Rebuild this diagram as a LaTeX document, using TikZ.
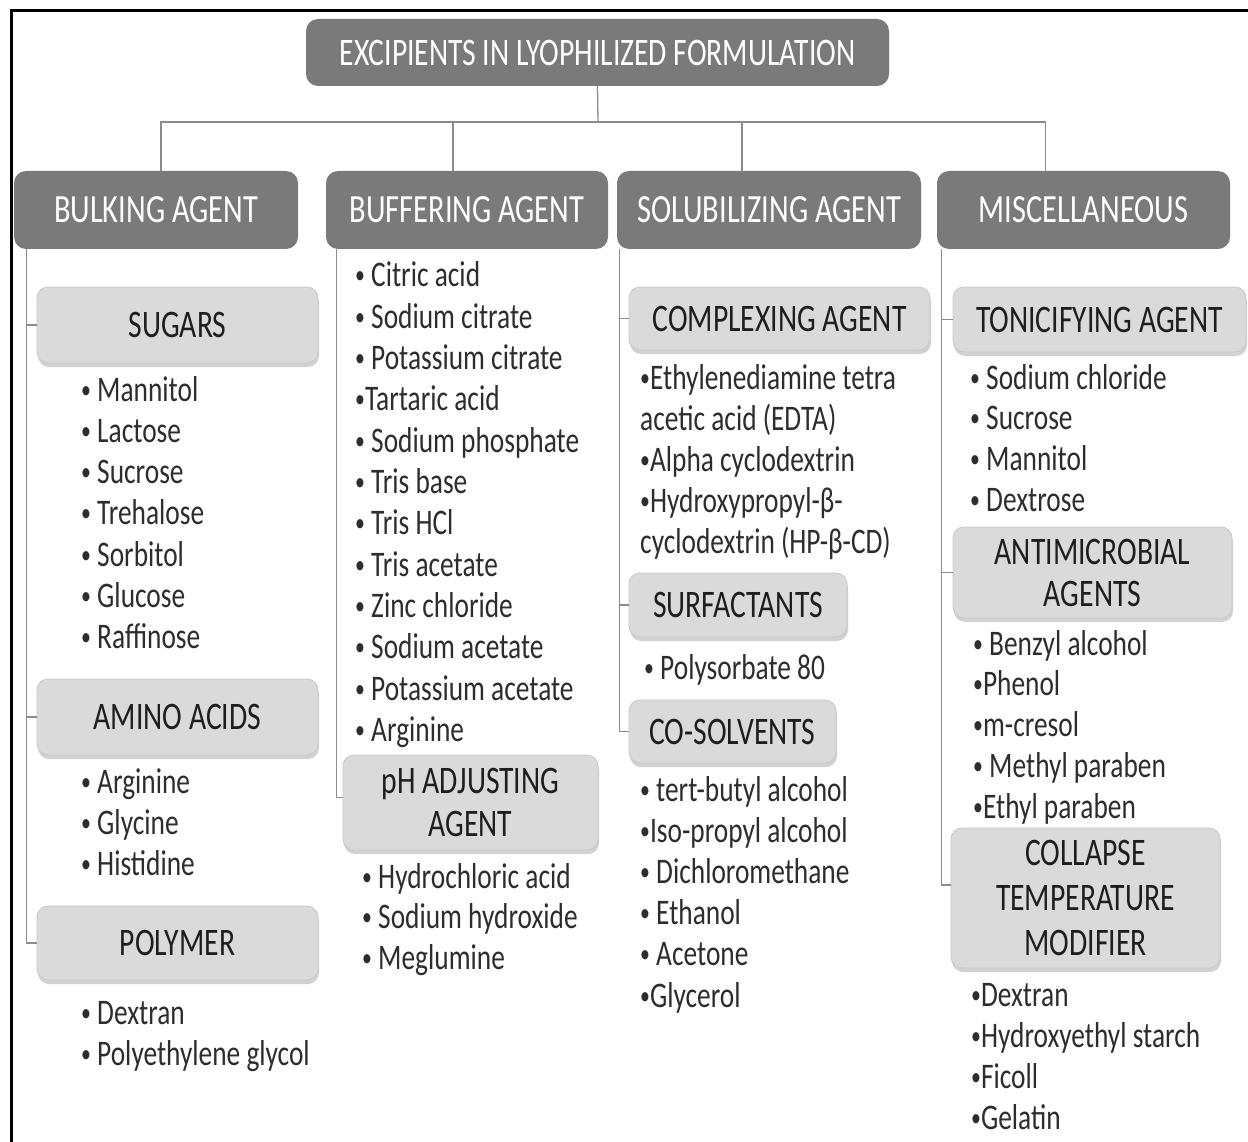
\documentclass[tikz,border=0pt]{standalone}
\usepackage{fontspec}
\setmainfont{Carlito}[FakeStretch=0.76]
\usetikzlibrary{shadows}
\definecolor{hdrgray}{RGB}{122,122,122}
\definecolor{subgray}{RGB}{218,218,218}
\definecolor{subedge}{RGB}{200,200,200}
\definecolor{linegray}{RGB}{140,140,140}
\definecolor{txtdark}{RGB}{30,30,30}
\definecolor{listtxt}{RGB}{45,45,45}
\newcommand\bu{{\fontsize{26}{26}\selectfont\raisebox{3pt}{•}}}
\begin{document}
\begin{tikzpicture}[x=1pt,y=-1pt,
  hdr/.style={fill=hdrgray, rounded corners=12pt, text=white, font=\fontsize{40}{40}\selectfont, inner sep=0pt},
  sub/.style={fill=subgray, draw=subedge, line width=0.8pt, rounded corners=11pt, text=txtdark,
    font=\fontsize{39}{43}\selectfont, align=center, inner sep=0pt,
    drop shadow={shadow xshift=1pt, shadow yshift=-4pt, opacity=0.35, fill=gray}},
  item/.style={anchor=base west, inner sep=0pt, text=listtxt, font=\fontsize{36}{41}\selectfont},
  conn/.style={draw=linegray, line width=1.3pt}]
\useasboundingbox (0,0) rectangle (1248,1142);
\fill[white] (0,0) rectangle (1248,1142);
\draw[line width=3pt] (1248,11) -- (11,11) -- (11,1142);

% title and headers
\node[hdr, minimum width=583, minimum height=67, font=\fontsize{39}{40}\selectfont] (title) at (597.5,52.5) {EXCIPIENTS IN LYOPHILIZED FORMULATION};
\node[hdr, minimum width=284, minimum height=78] (bulk) at (156,210) {BULKING AGENT};
\node[hdr, minimum width=282, minimum height=78] (buff) at (467,210) {BUFFERING AGENT};
\node[hdr, minimum width=304, minimum height=78] (solub) at (769,210) {SOLUBILIZING AGENT};
\node[hdr, minimum width=293, minimum height=78] (misc) at (1083.5,210) {MISCELLANEOUS};

\coordinate (j) at (598,122);
\draw[conn] (title.south) -- (j);
\draw[conn] ([xshift=5pt]bulk.north) |- (j);
\draw[conn] ([xshift=-14pt]buff.north) |- (j);
\draw[conn] ([xshift=-27pt]solub.north) |- (j);
\draw[conn] ([xshift=-38pt]misc.north) |- (j);

% sub boxes
\node[sub, minimum width=281, minimum height=76] (sugars) at (177.5,325) {SUGARS};
\node[sub, minimum width=281, minimum height=76] (amino) at (177.5,717) {AMINO ACIDS};
\node[sub, minimum width=281, minimum height=74] (polymer) at (177.5,943) {POLYMER};
\node[sub, minimum width=255, minimum height=95] (ph) at (470.5,802.5) {pH ADJUSTING\\AGENT};
\node[sub, minimum width=301, minimum height=63] (complex) at (779.5,318.5) {COMPLEXING AGENT};
\node[sub, minimum width=218, minimum height=64] (surf) at (738,605) {SURFACTANTS};
\node[sub, minimum width=207, minimum height=63] (cosolv) at (732.5,731.5) {CO-SOLVENTS};
\node[sub, minimum width=293, minimum height=65] (tonic) at (1099.5,319.5) {TONICIFYING AGENT};
\node[sub, minimum width=279, minimum height=91, font=\fontsize{39}{42}\selectfont] (antimic) at (1092.5,572.5) {ANTIMICROBIAL\\AGENTS};
\node[sub, minimum width=269, minimum height=140, font=\fontsize{39}{45}\selectfont] (collapse) at (1085.5,898) {COLLAPSE\\TEMPERATURE\\MODIFIER};

% spines
\draw[conn] ([xshift=13pt]bulk.south west) |- (sugars.west);
\draw[conn] ([xshift=13pt]bulk.south west) |- (amino.west);
\draw[conn] ([xshift=13pt]bulk.south west) |- (polymer.west);
\draw[conn] ([xshift=11pt]buff.south west) |- ([yshift=5pt]ph.west);
\draw[conn] ([xshift=3pt]solub.south west) |- (complex.west);
\draw[conn] ([xshift=3pt]solub.south west) |- (surf.west);
\draw[conn] ([xshift=3pt]solub.south west) |- (cosolv.west);
\draw[conn] ([xshift=5pt]misc.south west) |- (tonic.west);
\draw[conn] ([xshift=5pt]misc.south west) |- (antimic.west);
\draw[conn] ([xshift=5pt]misc.south west) |- ([yshift=13pt]collapse.west);

% lists
\foreach \t [count=\i] in {\bu\ Mannitol, \bu\ Lactose, \bu\ Sucrose, \bu\ Trehalose, \bu\ Sorbitol, \bu\ Glucose, \bu\ Raffinose}
  \node[item] (sug\i) at (81,{401+41.3*(\i-1)}) {\t};
\foreach \t [count=\i] in {\bu\ Arginine, \bu\ Glycine, \bu\ Histidine}
  \node[item] (ami\i) at (81,{793+41*(\i-1)}) {\t};
\foreach \t [count=\i] in {\bu\ Dextran, \bu\ Polyethylene glycol}
  \node[item] (pol\i) at (81,{1024+41*(\i-1)}) {\t};
\foreach \t [count=\i] in {\bu\ Citric acid, \bu\ Sodium citrate, \bu\ Potassium citrate, \bu Tartaric acid, \bu\ Sodium phosphate, \bu\ Tris base, \bu\ Tris HCl, \bu\ Tris acetate, \bu\ Zinc chloride, \bu\ Sodium acetate, \bu\ Potassium acetate, \bu\ Arginine}
  \node[item] (buf\i) at (355,{287+41.3*(\i-1)}) {\t};
\foreach \t [count=\i] in {\bu\ Hydrochloric acid, \bu\ Sodium hydroxide, \bu\ Meglumine}
  \node[item] (phl\i) at (362,{888+40.5*(\i-1)}) {\t};
\foreach \t [count=\i] in {\bu Ethylenediamine tetra, acetic acid (EDTA), \bu Alpha cyclodextrin, \bu Hydroxypropyl-β-, cyclodextrin (HP-β-CD)}
  \node[item] (cpx\i) at (640,{389+41*(\i-1)}) {\t};
\node[item] (srf1) at (644,679) {\bu\ Polysorbate 80};
\foreach \t [count=\i] in {\bu\ tert-butyl alcohol, \bu Iso-propyl alcohol, \bu\ Dichloromethane, \bu\ Ethanol, \bu\ Acetone, \bu Glycerol}
  \node[item] (cos\i) at (640,{801+41.2*(\i-1)}) {\t};
\foreach \t [count=\i] in {\bu\ Sodium chloride, \bu\ Sucrose, \bu\ Mannitol, \bu\ Dextrose}
  \node[item] (ton\i) at (970,{389+40.7*(\i-1)}) {\t};
\foreach \t [count=\i] in {\bu\ Benzyl alcohol, \bu Phenol, \bu m-cresol, \bu\ Methyl paraben, \bu Ethyl paraben}
  \node[item] (ant\i) at (973,{655+40.75*(\i-1)}) {\t};
\foreach \t [count=\i] in {\bu Dextran, \bu Hydroxyethyl starch, \bu Ficoll, \bu Gelatin}
  \node[item] (col\i) at (971,{1006+41.3*(\i-1)}) {\t};
\end{tikzpicture}
\end{document}
